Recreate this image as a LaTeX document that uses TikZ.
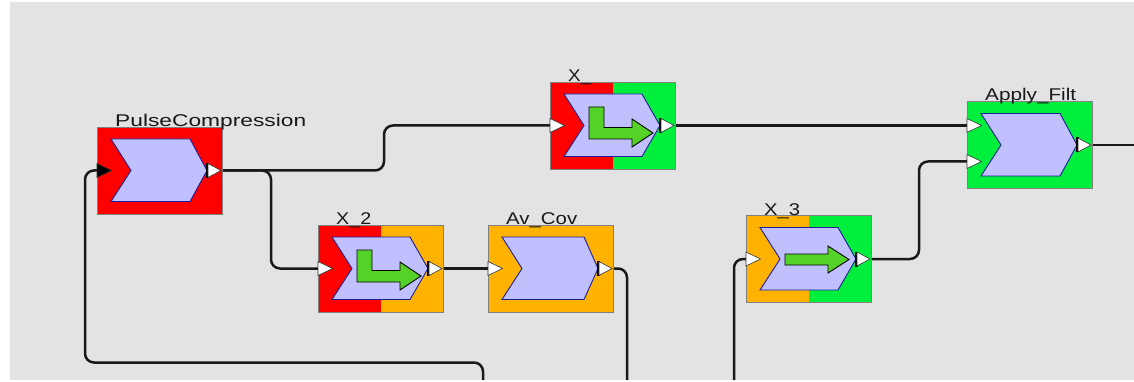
\documentclass[tikz,border=0pt]{standalone}
\usepackage{fontspec}
\usepackage{graphicx}
\newfontfamily\lblfont{Liberation Sans}
\definecolor{bgc}{RGB}{227,227,227}
\definecolor{redc}{RGB}{255,0,0}
\definecolor{grnc}{RGB}{0,238,60}
\definecolor{orgc}{RGB}{255,178,0}
\definecolor{lavc}{RGB}{192,192,255}
\definecolor{chevb}{RGB}{30,30,150}
\definecolor{arrg}{RGB}{85,210,40}
\tikzset{
 boxst/.style={draw=black!50, line width=0.6pt},
 chevst/.style={fill=lavc, draw=chevb, line width=0.9pt, line join=miter},
 portst/.style={fill=white, draw=black!80, line width=0.6pt},
 wire/.style={draw=black!90, line width=2.5pt, rounded corners=9pt},
 arrst/.style={fill=arrg, draw=black, line width=0.9pt},
 lblst/.style={font=\lblfont\fontsize{17}{20}\selectfont, text=black!90, inner sep=0pt, anchor=base west},
}
% name, x, y, leftcol, rightcol, chev top-right x, label width, label
\newcommand\blk[8]{%
 \begin{scope}[shift={(#2,#3)}]
 \node[boxst, fill=#5, minimum width=125pt, minimum height=87pt, inner sep=0pt, outer sep=0pt, anchor=north west] (#1) at (0,0) {};
 \fill[#4] (0,0) rectangle (63,87);
 \draw[boxst] (0,0) rectangle (125,87);
 \draw[chevst] (14,12) -- (#6,12) -- (110,43.5) -- (#6,74.5) -- (14,74.5) -- (34,43.5) -- cycle;
 \fill[black] (109,36) rectangle (111.5,51);
 \draw[portst] (111,36.5) -- (124,43.5) -- (111,50.5) -- cycle;
 \coordinate (#1-out) at (124,43.5);
 \node[lblst] (#1-lbl) at (18,-0.5) {\resizebox{#7}{\height}{#8}};
 \end{scope}}
% name, x, y, rel y, fill
\newcommand\inport[5]{%
 \begin{scope}[shift={(#2,#3)}]
 \draw[portst, fill=#5] (0,#4-7) -- (14.5,#4) -- (0,#4+7) -- cycle;
 \coordinate (#1) at (0,#4);
 \end{scope}}
\newcommand\larr[2]{%
 \draw[arrst, shift={(#1,#2)}] (39,25) -- (54,25) -- (54,45.5) -- (82,45.5) -- (82,37) -- (103,51) -- (82,65) -- (82,57) -- (39,57) -- cycle;}
\newcommand\sarr[2]{%
 \draw[arrst, shift={(#1,#2)}] (39,38.5) -- (82,38.5) -- (82,30.5) -- (103,44) -- (82,57.5) -- (82,49.5) -- (39,49.5) -- cycle;}
\begin{document}
\begin{tikzpicture}[x=1pt,y=-1pt]
\useasboundingbox (0,0) rectangle (1134,382);
\fill[white] (0,0) rectangle (1134,382);
\fill[bgc] (10,2) rectangle (1134,380);

% free wire ends
\coordinate (bot5) at (627,380);
\coordinate (bot7) at (734,380);
\coordinate (bot8) at (483,380);
\coordinate (loop) at (85,362.5);
\coordinate (rend) at (1134,145);

% port coordinates (computed ahead for wires)
\coordinate (PC-outw) at (220,170.5);
\coordinate (PC-inw) at (97,170.5);
\coordinate (X-inw) at (550,125.5);
\coordinate (X-outw) at (673,125.5);
\coordinate (X2-inw) at (318,268.5);
\coordinate (X2-outw) at (441,268.5);
\coordinate (AV-inw) at (488,268.5);
\coordinate (AV-outw) at (611,268.5);
\coordinate (X3-inw) at (746,259);
\coordinate (X3-outw) at (869,259);
\coordinate (AF-in1w) at (967,125.5);
\coordinate (AF-in2w) at (967,161.5);
\coordinate (AF-outw) at (1090,145);

% wires
\draw[wire] (PC-outw) -| ([xshift=-166pt]X-inw) -- (X-inw);
\draw[wire] (PC-outw) -| ([xshift=-47pt]X2-inw) -- (X2-inw);
\draw[wire] (X-outw) -- (AF-in1w);
\draw[wire] (X2-outw) -- (AV-inw);
\draw[wire] (AV-outw) -| (bot5);
\draw[wire] (X3-outw) -| ([xshift=-48pt]AF-in2w) -- (AF-in2w);
\draw[wire] (bot7) |- (X3-inw);
\draw[wire] (bot8) |- (loop) |- (PC-inw);
\draw[wire] (AF-outw) -- (rend);

% blocks
\blk{PC}{97}{127}{redc}{redc}{93}{191pt}{PulseCompression}
\inport{PC-in}{97}{127}{43.5}{black}
\blk{X}{550}{82}{redc}{grnc}{92}{23pt}{X\_}
\inport{X-in}{550}{82}{43.5}{white}
\larr{550}{82}
\blk{X2}{318}{225}{redc}{orgc}{92}{35pt}{X\_2}
\inport{X2-in}{318}{225}{43.5}{white}
\larr{318}{225}
\blk{AV}{488}{225}{orgc}{orgc}{96}{71pt}{Av\_Cov}
\inport{AV-in}{488}{225}{43.5}{white}
\blk{X3}{746}{215.5}{orgc}{grnc}{92}{36pt}{X\_3}
\inport{X3-in}{746}{215.5}{43.5}{white}
\sarr{746}{215.5}
\blk{AF}{967}{101.5}{grnc}{grnc}{93}{91pt}{Apply\_Filt}
\inport{AF-in1}{967}{101.5}{24}{white}
\inport{AF-in2}{967}{101.5}{60}{white}
\end{tikzpicture}
\end{document}
